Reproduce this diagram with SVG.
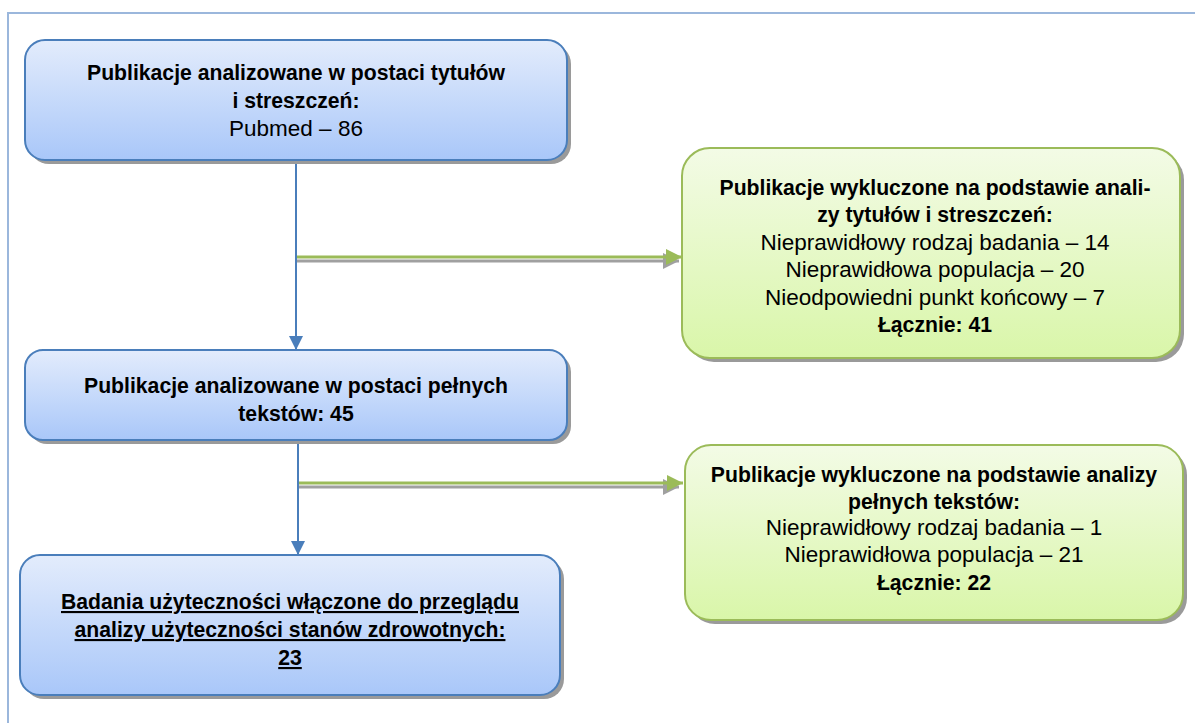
<svg xmlns="http://www.w3.org/2000/svg" width="1195" height="723" viewBox="0 0 1195 723">
<defs>
<linearGradient id="gBlue" x1="0" y1="0" x2="0" y2="1">
<stop offset="0" stop-color="#e3ecfc"/>
<stop offset="1" stop-color="#a9c7f9"/>
</linearGradient>
<linearGradient id="gGreen" x1="0" y1="0" x2="0" y2="1">
<stop offset="0" stop-color="#f3fbe6"/>
<stop offset="1" stop-color="#d9f6a9"/>
</linearGradient>
<marker id="mBlue" markerWidth="14" markerHeight="14" refX="14" refY="7" orient="auto" markerUnits="userSpaceOnUse">
<path d="M0,0 L14,7 L0,14 Z" fill="#4a7ebb"/>
</marker>
<marker id="mGreen" markerWidth="16" markerHeight="16" refX="16" refY="8" orient="auto" markerUnits="userSpaceOnUse">
<path d="M0,0 L16,8 L0,16 Z" fill="#9bbb59"/>
</marker>
<marker id="mGray" markerWidth="16" markerHeight="16" refX="16" refY="8" orient="auto" markerUnits="userSpaceOnUse">
<path d="M0,0 L16,8 L0,16 Z" fill="#a0a0a0"/>
</marker>
</defs>
<style>
.frame{fill:none;stroke:#9bb7dc;stroke-width:2}
.shadow{fill:#9a9a9a}
.blue{fill:url(#gBlue);stroke:#4a7ebb;stroke-width:2}
.green{fill:url(#gGreen);stroke:#9bbb59;stroke-width:2}
text{font-family:"Liberation Sans",Arial,sans-serif;font-size:21px;fill:#000;text-anchor:middle}
.r{font-size:22.5px}
.b{font-weight:bold;font-size:21.2px}
.u{text-decoration:underline}
.vline{stroke:#4a7ebb;stroke-width:2;fill:none}
.gline{stroke:#9bbb59;stroke-width:3;fill:none}
.sline{stroke:#a0a0a0;stroke-width:3;fill:none}
</style>
<path class="frame" d="M8,723 L8,13 L1195,13"/>

<g id="connectors">
<line class="vline" x1="296" y1="160" x2="296" y2="350" marker-end="url(#mBlue)"/>
<line class="vline" x1="298" y1="440" x2="298" y2="555" marker-end="url(#mBlue)"/>
<line class="sline" x1="297" y1="261" x2="679" y2="261" marker-end="url(#mGray)"/>
<line class="gline" x1="297" y1="257" x2="682" y2="257" marker-end="url(#mGreen)"/>
<line class="sline" x1="299" y1="487" x2="679" y2="487" marker-end="url(#mGray)"/>
<line class="gline" x1="299" y1="483" x2="683" y2="483" marker-end="url(#mGreen)"/>
</g>

<g id="node1">
<rect class="shadow" x="29" y="44" width="542" height="120" rx="20"/>
<rect class="blue" x="25" y="40" width="542" height="120" rx="20"/>
<text class="b" x="296" y="80">Publikacje analizowane w postaci tytułów</text>
<text class="b" x="296" y="108">i streszczeń:</text>
<text class="r" x="296" y="136">Pubmed – 86</text>
</g>

<g id="node2">
<rect class="shadow" x="29" y="354" width="542" height="90" rx="18"/>
<rect class="blue" x="25" y="350" width="542" height="90" rx="18"/>
<text class="b" x="296" y="393">Publikacje analizowane w postaci pełnych</text>
<text class="b" x="296" y="421">tekstów: 45</text>
</g>

<g id="node3">
<rect class="shadow" x="24" y="559" width="540" height="140" rx="20"/>
<rect class="blue" x="20" y="555" width="540" height="140" rx="20"/>
<text class="b u" x="290" y="609">Badania użyteczności włączone do przeglądu</text>
<text class="b u" x="290" y="637">analizy użyteczności stanów zdrowotnych:</text>
<text class="b u" x="290" y="665">23</text>
</g>

<g id="node4">
<rect class="shadow" x="686" y="152" width="498" height="210" rx="28"/>
<rect class="green" x="682" y="148" width="498" height="210" rx="28"/>
<text class="b" x="935" y="195">Publikacje wykluczone na podstawie anali-</text>
<text class="b" x="935" y="222">zy tytułów i streszczeń:</text>
<text class="r" x="935" y="250">Nieprawidłowy rodzaj badania – 14</text>
<text class="r" x="935" y="277">Nieprawidłowa populacja – 20</text>
<text class="r" x="935" y="305">Nieodpowiedni punkt końcowy – 7</text>
<text class="b" x="935" y="332">Łącznie: 41</text>
</g>

<g id="node5">
<rect class="shadow" x="689" y="449" width="498" height="175" rx="26"/>
<rect class="green" x="685" y="445" width="498" height="175" rx="26"/>
<text class="b" x="934" y="482">Publikacje wykluczone na podstawie analizy</text>
<text class="b" x="934" y="509">pełnych tekstów:</text>
<text class="r" x="934" y="535">Nieprawidłowy rodzaj badania – 1</text>
<text class="r" x="934" y="562">Nieprawidłowa populacja – 21</text>
<text class="b" x="934" y="590">Łącznie: 22</text>
</g>
</svg>
